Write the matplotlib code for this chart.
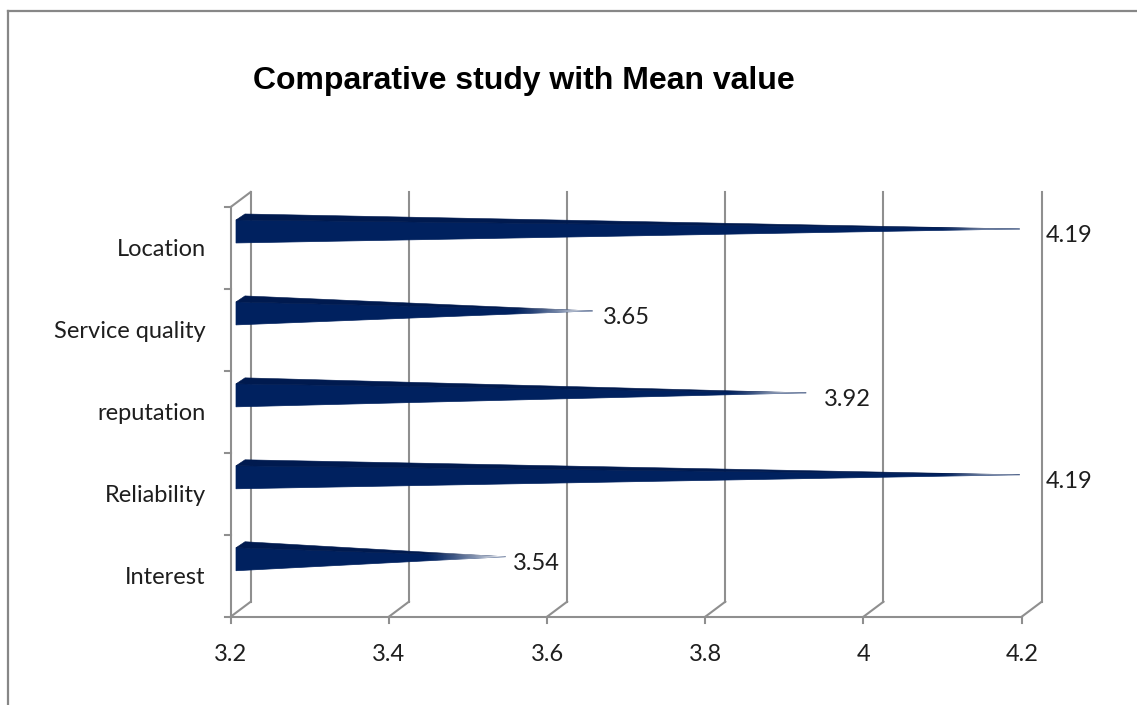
import numpy as np
import matplotlib
matplotlib.use('Agg')
import matplotlib.pyplot as plt
from matplotlib.patches import Polygon
from matplotlib.lines import Line2D

# ---- data ----
categories = ['Location', 'Service quality', 'reputation', 'Reliability', 'Interest']
mean_values = [4.19, 3.65, 3.92, 4.19, 3.54]
x_ticks = [3.2, 3.4, 3.6, 3.8, 4.0, 4.2]
x_tick_labels = ['3.2', '3.4', '3.6', '3.8', '4', '4.2']

# ---- figure / axes ----
W, H = 1137, 705
fig = plt.figure(figsize=(W / 100, H / 100), dpi=100)
fig.patch.set_facecolor('white')

# front plane of the 3D chart
ax_l, ax_r, ax_t, ax_b = 230.7, 1021.7, 207.0, 616.7
ax = fig.add_axes([ax_l / W, (H - ax_b) / H, (ax_r - ax_l) / W, (ax_b - ax_t) / H])
ax.set_xlim(x_ticks[0], x_ticks[-1])
ax.set_ylim(-0.5, len(categories) - 0.5)
ax.patch.set_visible(False)
for s in ax.spines.values():
    s.set_visible(False)

# pixel -> data unit helpers
px_x = (x_ticks[-1] - x_ticks[0]) / (ax_r - ax_l)
px_y = len(categories) / (ax_b - ax_t)

depth_x = 20 * px_x
depth_y = 15 * px_y
grid_col = '#8f8f8f'
grid_lw = 1.5
y_lo, y_hi = -0.5, len(categories) - 0.5
txt_col = '#1e1e1e'
txt_size = 17

# back wall gridlines + floor diagonals + tick marks
for xv in x_ticks:
    ax.add_line(Line2D([xv + depth_x, xv + depth_x], [y_lo + depth_y, y_hi + depth_y],
                       color=grid_col, lw=grid_lw, zorder=1, clip_on=False))
    ax.add_line(Line2D([xv, xv + depth_x], [y_lo, y_lo + depth_y],
                       color=grid_col, lw=grid_lw, zorder=1, clip_on=False))
    ax.add_line(Line2D([xv, xv], [y_lo, y_lo - 6 * px_y],
                       color=grid_col, lw=grid_lw, zorder=1, clip_on=False))
ax.add_line(Line2D([x_ticks[0], x_ticks[-1]], [y_lo, y_lo],
                   color=grid_col, lw=grid_lw, zorder=1, clip_on=False))

# left wall: front edge, top diagonal, tick marks
ax.add_line(Line2D([x_ticks[0], x_ticks[0]], [y_lo, y_hi],
                   color=grid_col, lw=grid_lw, zorder=1, clip_on=False))
ax.add_line(Line2D([x_ticks[0], x_ticks[0] + depth_x], [y_hi, y_hi + depth_y],
                   color=grid_col, lw=grid_lw, zorder=1, clip_on=False))
for k in range(len(categories) + 1):
    yb = y_lo + k
    ax.add_line(Line2D([x_ticks[0] - 6 * px_x, x_ticks[0]], [yb, yb],
                       color=grid_col, lw=grid_lw, zorder=1, clip_on=False))

# ---- pyramid bars ----
front_col = '#00215f'
top_col = '#001a4f'
n = len(categories)
x0 = x_ticks[0] + 5.3 * px_x
half_h = 11.5 * px_y
bevel_x, bevel_y = 9 * px_x, 6 * px_y
fade_len = 80 * px_x

ramp = np.ones((1, 256, 4))
ramp[0, :, 3] = np.linspace(0, 1, 256) ** 1.3

for i, (cat, v) in enumerate(zip(categories, mean_values)):
    pos = n - 1 - i
    yc = pos + 16.5 * px_y
    tip = (v + 6 * px_x, yc + 2.5 * px_y)

    front = Polygon([(x0, yc - half_h), (x0, yc + half_h), tip], closed=True,
                    facecolor=front_col, edgecolor=front_col, lw=0.5, zorder=3)
    top = Polygon([(x0, yc + half_h), (x0 + bevel_x, yc + half_h + bevel_y), tip], closed=True,
                  facecolor=top_col, edgecolor=top_col, lw=0.4, zorder=3)
    ax.add_patch(front)
    ax.add_patch(top)

    # light fade toward the tip
    outline = Polygon([(x0, yc - half_h - 0.02), (x0, yc + half_h),
                       (x0 + bevel_x, yc + half_h + bevel_y + 0.02),
                       (tip[0] + 3 * px_x, tip[1])],
                      closed=True, transform=ax.transData)
    im = ax.imshow(ramp, extent=(tip[0] - fade_len, tip[0] + 1 * px_x,
                                 yc - half_h - 0.05, yc + half_h + bevel_y + 0.05),
                   aspect='auto', zorder=4, interpolation='bilinear')
    im.set_clip_path(outline)

    # value label; gap widens with the perspective toward the right
    gap = (-2 + 28 * (v - x_ticks[0])) * px_x
    ax.text(tip[0] + gap, yc - 4 * px_y, f'{v:.2f}', ha='left', va='center',
            fontsize=txt_size, family='Lato', color=txt_col, zorder=5)

ax.set_xlim(x_ticks[0], x_ticks[-1])
ax.set_ylim(y_lo, y_hi)

# ---- tick labels ----
ax.set_xticks(x_ticks)
ax.set_xticklabels(x_tick_labels, fontsize=txt_size, family='Lato', color=txt_col)
ax.set_yticks([n - 1 - i for i in range(n)])
ax.set_yticklabels(categories, fontsize=txt_size, family='Lato', color=txt_col)
ax.tick_params(length=0)
ax.tick_params(axis='y', pad=18)
ax.tick_params(axis='x', pad=19.5)

# ---- title and outer frame ----
fig.text(524 / W, 1 - 81 / H, 'Comparative study with Mean value', ha='center', va='center',
         fontsize=23, fontweight='bold', family='Liberation Sans', color='black')
fig.add_artist(Line2D([8 / W, 1.0], [1 - 11 / H, 1 - 11 / H], transform=fig.transFigure,
                      color='#878787', lw=1.6))
fig.add_artist(Line2D([8 / W, 8 / W], [0.0, 1 - 11 / H], transform=fig.transFigure,
                      color='#878787', lw=1.6))

fig.savefig('out.png', dpi=100, facecolor='white')
